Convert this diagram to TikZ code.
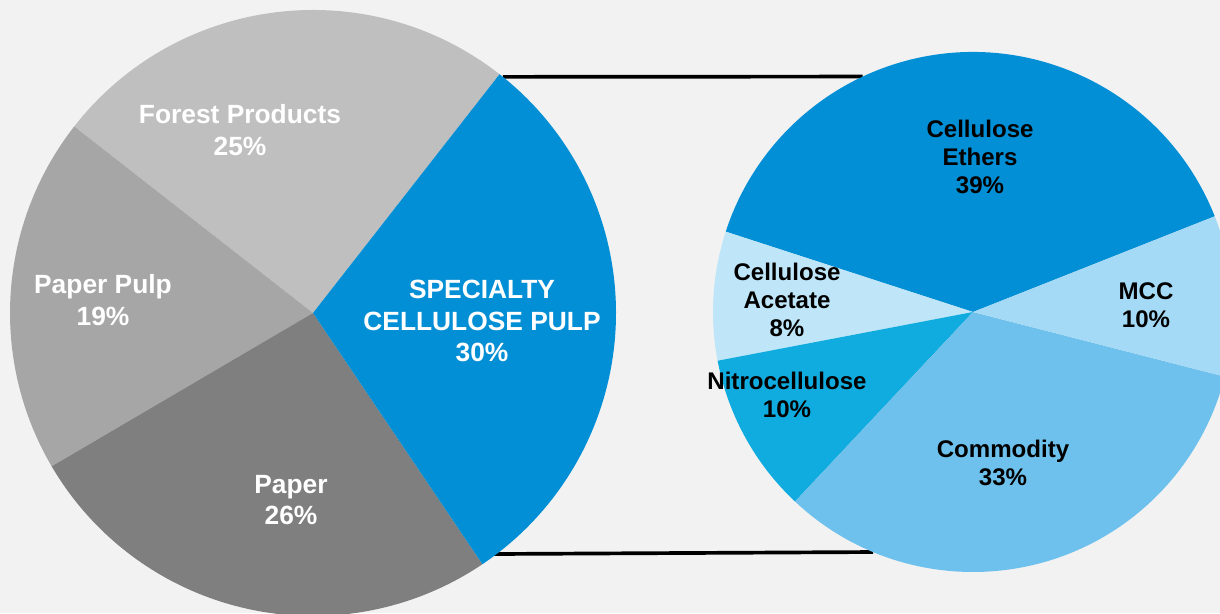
\documentclass[tikz,border=0pt]{standalone}
\usepackage{fontspec}
\setmainfont{Liberation Sans}
\definecolor{bggray}{HTML}{F2F2F2}
\definecolor{forestgray}{HTML}{BFBFBF}
\definecolor{pulpgray}{HTML}{A6A6A6}
\definecolor{papergray}{HTML}{7F7F7F}
\definecolor{specblue}{HTML}{038FD6}
\definecolor{acetateblue}{HTML}{BEE6F8}
\definecolor{mccblue}{HTML}{A5DAF6}
\definecolor{commodityblue}{HTML}{6EC1EC}
\definecolor{nitroblue}{HTML}{10ACE0}

\begin{document}
\begin{tikzpicture}[x=0.02cm, y=0.02cm,
  big label/.style={text=white, font=\fontsize{15}{18}\selectfont\bfseries, align=center, inner sep=0pt},
  small label/.style={text=black, font=\fontsize{13.7}{15.9}\selectfont\bfseries, align=center, inner sep=0pt},
  zoom line/.style={line width=2.1pt, black}]
  \fill[bggray] (0,0) rectangle (1220,613);
  \useasboundingbox (0,0) rectangle (1220,613);
  \clip (0,0) rectangle (1220,613);
  \coordinate (L) at (313,300);
  \coordinate (R) at (973,301);
  % lines from the specialty slice to the second pie
  \path (L) ++(51.2:303) coordinate (LT) (L) ++(306.8:301) coordinate (LB);
  \path (R) ++(115.1:260) coordinate (RT) (R) ++(247.4:260) coordinate (RB);
  \draw[zoom line] (LT) -- (RT);
  \draw[zoom line] (LB) -- (RB);
  % left pie
  \fill[forestgray] (L) -- ++(52:303) arc[start angle=52, end angle=142, radius=303] -- cycle;
  \fill[pulpgray] (L) -- ++(142:303) arc[start angle=142, end angle=210.4, radius=303] -- cycle;
  \fill[papergray] (L) -- ++(210.4:303) arc[start angle=210.4, end angle=304, radius=303] -- cycle;
  \fill[specblue] (L) -- ++(304:303) arc[start angle=304, end angle=412, radius=303] -- cycle;
  \node[big label] (forest) at (240,483) {Forest Products\\25\%};
  \node[big label] (pulp) at (103,313) {Paper Pulp\\19\%};
  \node[big label] (paper) at (291,113) {Paper\\26\%};
  \node[big label] (specialty) at (482,292) {SPECIALTY\\CELLULOSE PULP\\30\%};
  % right pie
  \fill[specblue] (R) -- ++(21.6:260) arc[start angle=21.6, end angle=162, radius=260] -- cycle;
  \fill[acetateblue] (R) -- ++(162:260) arc[start angle=162, end angle=190.8, radius=260] -- cycle;
  \fill[nitroblue] (R) -- ++(190.8:260) arc[start angle=190.8, end angle=226.8, radius=260] -- cycle;
  \fill[commodityblue] (R) -- ++(226.8:260) arc[start angle=226.8, end angle=345.6, radius=260] -- cycle;
  \fill[mccblue] (R) -- ++(345.6:260) arc[start angle=345.6, end angle=381.6, radius=260] -- cycle;
  \node[small label] (ethers) at (980,456) {Cellulose\\Ethers\\39\%};
  \node[small label] (acetate) at (787,313) {Cellulose\\Acetate\\8\%};
  \node[small label] (mcc) at (1146,308) {MCC\\10\%};
  \node[small label] (nitro) at (787,218) {Nitrocellulose\\10\%};
  \node[small label] (commodity) at (1003,150) {Commodity\\33\%};
\end{tikzpicture}
\end{document}
